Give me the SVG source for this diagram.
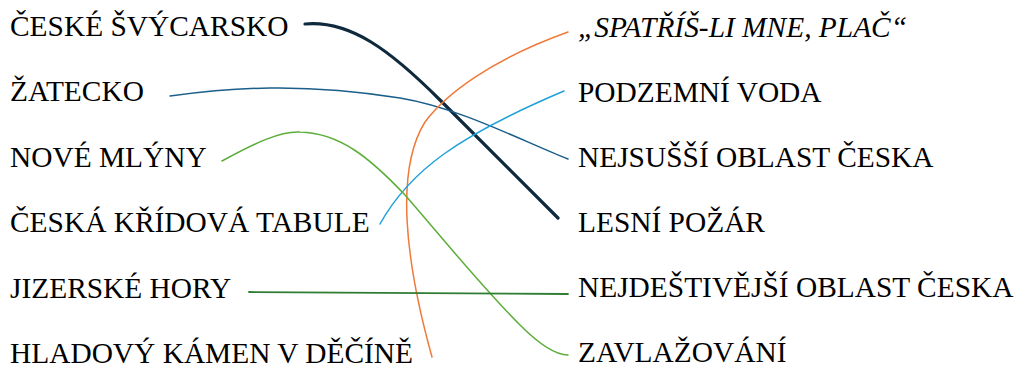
<svg xmlns="http://www.w3.org/2000/svg" width="1018" height="368" viewBox="0 0 1018 368">
<style>
.t{font-family:"Liberation Serif","Times New Roman",serif;font-size:29.4px;fill:#000}
.it{font-style:italic}
path{fill:none;stroke-linecap:round}
</style>
<rect width="1018" height="368" fill="#fff"/>
<g id="left">
<g id="n-ceske-svycarsko"><text class="t" x="10" y="36">ČESKÉ ŠVÝCARSKO</text></g>
<g id="n-zatecko"><text class="t" x="10" y="101">ŽATECKO</text></g>
<g id="n-nove-mlyny"><text class="t" x="10" y="167">NOVÉ MLÝNY</text></g>
<g id="n-ceska-kridova"><text class="t" x="10" y="232">ČESKÁ KŘÍDOVÁ TABULE</text></g>
<g id="n-jizerske-hory"><text class="t" x="10" y="298">JIZERSKÉ HORY</text></g>
<g id="n-hladovy-kamen"><text class="t" x="10" y="363">HLADOVÝ KÁMEN V DĚČÍNĚ</text></g>
</g>
<g id="right">
<g id="n-spatris"><text class="t it" x="578" y="37">„SPATŘÍŠ-LI MNE, PLAČ“</text></g>
<g id="n-podzemni-voda"><text class="t" x="578" y="102">PODZEMNÍ VODA</text></g>
<g id="n-nejsussi"><text class="t" x="578" y="167">NEJSUŠŠÍ OBLAST ČESKA</text></g>
<g id="n-lesni-pozar"><text class="t" x="578" y="232">LESNÍ POŽÁR</text></g>
<g id="n-nejdestivejsi"><text class="t" x="578" y="297">NEJDEŠTIVĚJŠÍ OBLAST ČESKA</text></g>
<g id="n-zavlazovani"><text class="t" x="578" y="362">ZAVLAŽOVÁNÍ</text></g>
</g>
<g id="connectors">
<path d="M305,24 C350,20 390,50 440,100 S530,190 558,218" stroke="#0f2a3c" stroke-width="3.2"/>
<path d="M170,96 C230,88 300,82 400,98 C460,108 520,140 568,159" stroke="#1a5e8a" stroke-width="1.5"/>
<path d="M432,357 C405,260 395,170 425,122 C445,95 490,60 568,32" stroke="#ef7a3a" stroke-width="1.5"/>
<path d="M380,224 C410,170 460,135 564,91" stroke="#20a0dc" stroke-width="1.5"/>
<path d="M222,161 C255,143 280,131 300,132 C340,133 370,158 405,195 C440,235 480,285 520,325 C540,345 555,355 568,355" stroke="#5cae3a" stroke-width="1.5"/>
<path d="M249,292 L568,294" stroke="#2e7d32" stroke-width="1.8"/>
</g>
</svg>
